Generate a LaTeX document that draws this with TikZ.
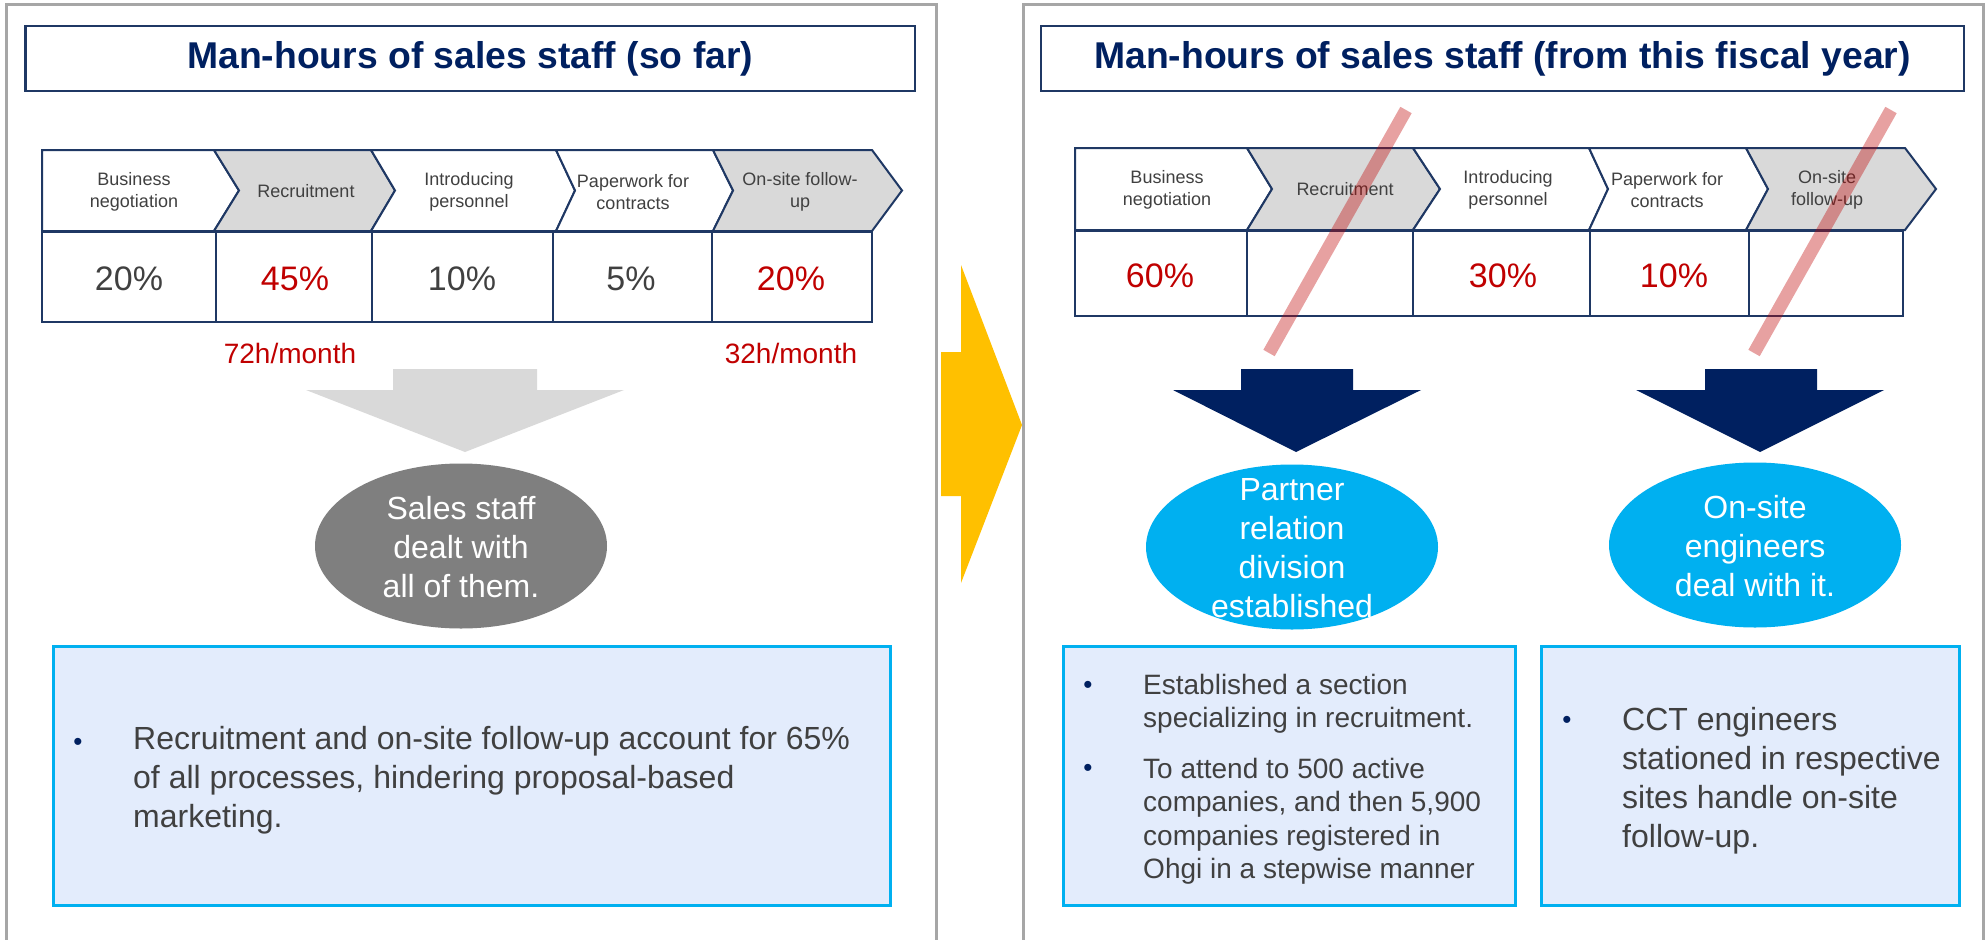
\documentclass[tikz,border=0pt]{standalone}
\usepackage{fontspec}
\setmainfont{Liberation Sans}
\usetikzlibrary{shapes.geometric}
\definecolor{navy}{HTML}{002060}
\definecolor{linenavy}{HTML}{1F3864}
\definecolor{txtgray}{HTML}{404040}
\definecolor{redt}{HTML}{C00000}
\definecolor{lgray}{HTML}{D9D9D9}
\definecolor{panelgray}{HTML}{A6A6A6}
\definecolor{cyanf}{HTML}{00B0F0}
\definecolor{boxfill}{HTML}{E3ECFC}
\definecolor{ellgray}{HTML}{7F7F7F}
\definecolor{gold}{HTML}{FFC000}
\begin{document}
\begin{tikzpicture}[x=1pt,y=-1pt,
  panel/.style={draw=panelgray, line width=3pt},
  titlebox/.style={draw=linenavy, line width=2.5pt, fill=white, inner sep=0pt,
     font=\fontsize{37.3}{42}\selectfont\bfseries, text=navy},
  chevw/.style={draw=linenavy, line width=2pt, fill=white, line join=miter},
  chevg/.style={chevw, fill=lgray},
  chevlabel/.style={font=\fontsize{18}{22}\selectfont, text=txtgray, align=center, inner sep=0pt},
  cellbox/.style={draw=linenavy, line width=2pt, fill=white},
  pctg/.style={font=\fontsize{34}{40}\selectfont, text=txtgray, inner sep=0pt},
  pctr/.style={pctg, text=redt},
  hours/.style={font=\fontsize{28}{32}\selectfont, text=redt, inner sep=0pt},
  ell/.style={ellipse, minimum width=292pt, minimum height=165pt, inner sep=0pt},
  elltext/.style={font=\fontsize{32}{39}\selectfont, text=white, align=center, inner sep=0pt},
  infobox/.style={draw=cyanf, line width=3pt, fill=boxfill},
  bodytext/.style={font=\fontsize{32}{39}\selectfont, text=txtgray, align=left, inner sep=0pt, anchor=west},
  smalltext/.style={bodytext, font=\fontsize{28}{33.5}\selectfont},
  bul/.style={font=\fontsize{26}{30}\selectfont, text=navy, inner sep=0pt, anchor=base},
  strike/.style={draw=redt, draw opacity=0.37, line width=13pt}
]
\fill[white] (0,0) rectangle (1985,939);
\useasboundingbox (0,0) rectangle (1985,939);

% panels
\draw[panel] (6,945) -- (6,5) -- (936,5) -- (936,945);
\draw[panel] (1023,945) -- (1023,5) -- (1983,5) -- (1983,945);

% titles
\node[titlebox, minimum width=889.5pt, minimum height=65pt] (titleL) at (470.25,58.5) {Man-hours of sales staff (so far)};
\node[titlebox, minimum width=923pt, minimum height=65pt] (titleR) at (1502.5,58.5) {Man-hours of sales staff (from this fiscal year)};

% ---------- left chevrons ----------
\draw[chevw] (42,150) -- (214,150) -- (239,190.5) -- (214,231) -- (42,231) -- cycle;
\draw[chevg] (214,150) -- (371,150) -- (395,190.5) -- (371,231) -- (214,231) -- (239,190.5) -- cycle;
\draw[chevw] (371,150) -- (556,150) -- (575,190.5) -- (556,231) -- (371,231) -- (395,190.5) -- cycle;
\draw[chevw] (556,150) -- (713,150) -- (733,190.5) -- (713,231) -- (556,231) -- (575,190.5) -- cycle;
\draw[chevg] (713,150) -- (872,150) -- (902,190.5) -- (872,231) -- (713,231) -- (733,190.5) -- cycle;
\node[chevlabel] (lc1) at (134,192) {Business\\negotiation};
\node[chevlabel] (lc2) at (306,191) {Recruitment};
\node[chevlabel] (lc3) at (469,192) {Introducing\\personnel};
\node[chevlabel] (lc4) at (633,192) {Paperwork for\\contracts};
\node[chevlabel] (lc5) at (800,192) {On-site follow-\\up};

% left percentage cells
\draw[cellbox] (42,232) rectangle (216,322);
\draw[cellbox] (216,232) rectangle (372,322);
\draw[cellbox] (372,232) rectangle (553,322);
\draw[cellbox] (553,232) rectangle (712,322);
\draw[cellbox] (712,232) rectangle (872,322);
\node[pctg] (lp1) at (129,279) {20\%};
\node[pctr] (lp2) at (295,279) {45\%};
\node[pctg] (lp3) at (462,279) {10\%};
\node[pctg] (lp4) at (631,279) {5\%};
\node[pctr] (lp5) at (791,279) {20\%};
\node[hours] (h1) at (290,353) {72h/month};
\node[hours] (h2) at (791,353) {32h/month};

% gray arrow
\fill[lgray] (393,369) -- (537,369) -- (537,390) -- (624,390) -- (465,452) -- (306,390) -- (393,390) -- cycle;

% gray ellipse
\node[ell, fill=ellgray] (eL) at (461,546) {};
\node[elltext] (eLt) at (461,547) {Sales staff\\dealt with\\all of them.};

% left info box
\draw[infobox] (53,646) rectangle (890,905);
\node[bul] (bL) at (78,750) {•};
\node[bodytext] (tL) at (133,780) {Recruitment and on-site follow-up account for 65\%\\of all processes, hindering proposal-based\\marketing.};

% yellow arrow
\fill[gold] (941,352) -- (961,352) -- (961,265) -- (1022,425) -- (961,583) -- (961,496) -- (941,496) -- cycle;

% ---------- right chevrons ----------
\draw[chevw] (1075,148) -- (1247,148) -- (1272,189) -- (1247,230) -- (1075,230) -- cycle;
\draw[chevg] (1247,148) -- (1413,148) -- (1440,189) -- (1413,230) -- (1247,230) -- (1272,189) -- cycle;
\draw[chevw] (1413,148) -- (1589,148) -- (1608,189) -- (1589,230) -- (1413,230) -- (1440,189) -- cycle;
\draw[chevw] (1589,148) -- (1746,148) -- (1768,189) -- (1746,230) -- (1589,230) -- (1608,189) -- cycle;
\draw[chevg] (1746,148) -- (1905,148) -- (1936,189) -- (1905,230) -- (1746,230) -- (1768,189) -- cycle;
\node[chevlabel] (rc1) at (1167,190) {Business\\negotiation};
\node[chevlabel] (rc2) at (1345,189) {Recruitment};
\node[chevlabel] (rc3) at (1508,190) {Introducing\\personnel};
\node[chevlabel] (rc4) at (1667,190) {Paperwork for\\contracts};
\node[chevlabel] (rc5) at (1827,190) {On-site\\follow-up};

% right percentage cells
\draw[cellbox] (1075,231) rectangle (1247,316);
\draw[cellbox] (1247,231) rectangle (1413,316);
\draw[cellbox] (1413,231) rectangle (1590,316);
\draw[cellbox] (1590,231) rectangle (1749,316);
\draw[cellbox] (1749,231) rectangle (1903,316);
\node[pctr] (rp1) at (1160,276) {60\%};
\node[pctr] (rp3) at (1503,276) {30\%};
\node[pctr] (rp4) at (1674,276) {10\%};

% navy arrows
\fill[navy] (1241,369) -- (1353,369) -- (1353,390) -- (1421,390) -- (1296,452) -- (1173,390) -- (1241,390) -- cycle;
\fill[navy] (1705,369) -- (1817,369) -- (1817,390) -- (1884,390) -- (1760,452) -- (1636,390) -- (1705,390) -- cycle;

% cyan ellipses
\node[ell, fill=cyanf] (eR1) at (1292,547) {};
\node[elltext] (eR1t) at (1292,548) {Partner\\relation\\division\\established};
\node[ell, fill=cyanf] (eR2) at (1755,545) {};
\node[elltext] (eR2t) at (1755,546) {On-site\\engineers\\deal with it.};

% right info boxes
\draw[infobox] (1063,646) rectangle (1515,905);
\node[bul] (bR1) at (1088,693) {•};
\node[smalltext] (tR1) at (1143,704) {Established a section\\specializing in recruitment.};
\node[bul] (bR2) at (1088,776) {•};
\node[smalltext] (tR2) at (1143,821) {To attend to 500 active\\companies, and then 5,900\\companies registered in\\Ohgi in a stepwise manner};

\draw[infobox] (1541,646) rectangle (1959,905);
\node[bul] (bR3) at (1567,728) {•};
\node[bodytext] (tR3) at (1622,781) {CCT engineers\\stationed in respective\\sites handle on-site\\follow-up.};

% red strike lines
\draw[strike] (1406,110) -- (1269,353);
\draw[strike] (1891,110) -- (1754,353);
\end{tikzpicture}
\end{document}
